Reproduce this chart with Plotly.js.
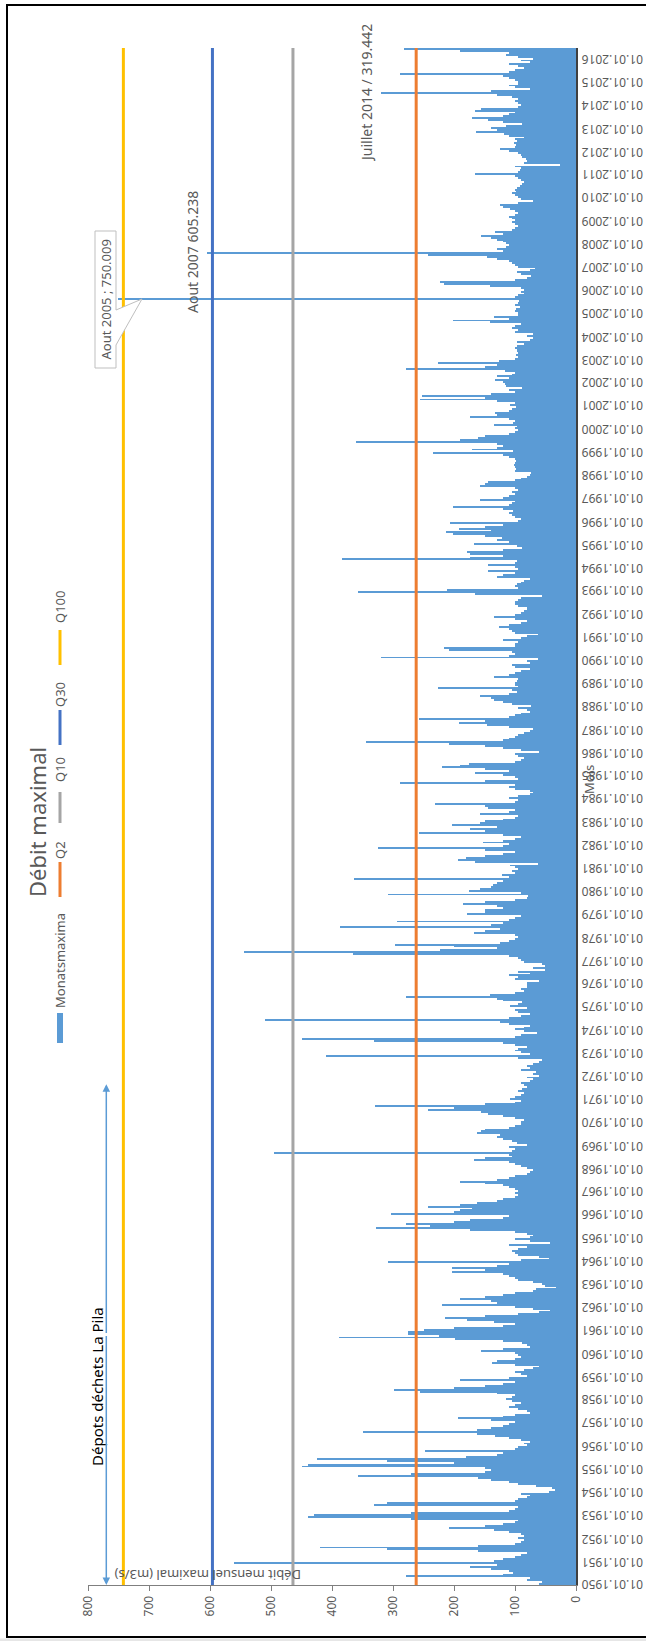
<!DOCTYPE html>
<html>
<head>
<meta charset="utf-8">
<script src="https://cdn.plot.ly/plotly-3.0.1.min.js"></script>
<style>
  html, body { margin: 0; padding: 0; background: #ffffff; }
  #chart { width: 646px; height: 1641px; }
</style>
</head>
<body>
<div id="chart"></div>
<script>
// ---------------- DATA ----------------
const startYear = 1950;
const seriesName = "Monatsmaxima";
// Monthly maxima (m3/s), Jan..Dec for each year
const flow1950s = [
  60, 56, 81, 75, 279, 120, 103, 110, 140, 174, 130, 561,
  134, 120, 100, 90, 80, 161, 310, 419, 160, 100, 90, 85,
  95, 85, 90, 110, 134, 209, 150, 120, 100, 95, 270, 439,
  429, 270, 110, 100, 95, 331, 310, 100, 95, 80, 75, 90,
  45, 35, 40, 66, 95, 110, 140, 160, 358, 270, 150, 140,
  150, 449, 439, 200, 310, 425, 180, 130, 120, 248, 100, 95,
  80, 86, 75, 90, 110, 133, 163, 349, 163, 140, 120, 110,
  100, 140, 193, 120, 100, 75, 80, 95, 110, 100, 90, 105,
  115, 105, 100, 130, 256, 298, 200, 150, 120, 100, 190, 110,
  80, 90, 100, 85, 70, 60, 100, 138, 130, 100, 90, 95
];
const flow1960s = [
  100, 155, 120, 75, 80, 89, 120, 198, 388, 225, 275, 275,
  250, 200, 120, 100, 135, 179, 214, 150, 95, 60, 43, 70,
  100, 219, 130, 140, 190, 150, 120, 100, 70, 65, 32, 51,
  55, 70, 95, 100, 110, 120, 204, 150, 204, 130, 110, 309,
  90, 45, 60, 95, 100, 105, 95, 80, 110, 43, 75, 100,
  75, 70, 80, 100, 174, 328, 240, 278, 200, 174, 120, 110,
  303, 200, 190, 170, 242, 190, 163, 130, 120, 100, 95, 100,
  95, 100, 110, 120, 150, 190, 130, 110, 100, 80, 75, 70,
  80, 90, 100, 110, 168, 150, 105, 110, 495, 105, 100, 110,
  80, 97, 105, 119, 130, 125, 163, 155, 150, 110, 100, 90
];
const flow1970s = [
  90, 85, 100, 120, 144, 155, 242, 200, 330, 150, 100, 90,
  108, 100, 90, 85, 95, 88, 80, 85, 90, 75, 70, 80,
  60, 70, 65, 90, 75, 80, 70, 60, 55, 95, 410, 75,
  90, 100, 95, 80, 100, 120, 331, 449, 100, 90, 64, 85,
  100, 85, 75, 110, 125, 510, 110, 90, 75, 95, 100, 80,
  108, 95, 89, 120, 130, 278, 141, 100, 85, 90, 80, 81,
  80, 60, 100, 95, 110, 75, 95, 51, 70, 51, 55, 85,
  90, 95, 110, 366, 545, 223, 130, 200, 297, 125, 110, 100,
  95, 100, 168, 150, 125, 387, 140, 120, 294, 110, 100, 90,
  179, 150, 149, 120, 130, 185, 150, 100, 80, 78, 308, 90
];
const flow1980s = [
  176, 158, 140, 136, 130, 120, 364, 110, 122, 100, 105, 95,
  100, 108, 62, 166, 193, 180, 150, 120, 100, 150, 325, 120,
  110, 152, 120, 100, 90, 120, 258, 150, 174, 130, 204, 157,
  150, 120, 100, 95, 157, 110, 100, 144, 150, 231, 100, 95,
  110, 95, 75, 70, 75, 100, 110, 100, 288, 150, 95, 100,
  120, 165, 110, 150, 220, 190, 176, 100, 90, 86, 95, 100,
  60, 90, 119, 150, 209, 344, 120, 110, 100, 95, 85, 75,
  70, 110, 146, 191, 150, 258, 110, 100, 90, 75, 80, 95,
  73, 105, 120, 135, 140, 157, 110, 97, 105, 226, 95, 100,
  100, 97, 95, 135, 110, 100, 90, 75, 100, 105, 75, 80
];
const flow1990s = [
  62, 320, 110, 100, 105, 209, 217, 100, 100, 95, 119, 90,
  81, 62, 100, 105, 110, 127, 110, 90, 81, 100, 135, 100,
  90, 85, 81, 80, 95, 100, 100, 95, 90, 56, 166, 358,
  212, 95, 100, 97, 90, 85, 75, 130, 119, 100, 144, 95,
  100, 144, 100, 97, 383, 174, 120, 174, 179, 120, 89, 97,
  168, 110, 130, 122, 150, 201, 213, 140, 191, 150, 120, 206,
  95, 90, 100, 105, 110, 103, 120, 202, 110, 105, 100, 157,
  120, 110, 100, 105, 95, 100, 157, 150, 144, 100, 90, 80,
  75, 73, 100, 98, 100, 102, 100, 98, 100, 110, 119, 234,
  103, 171, 130, 120, 130, 361, 190, 160, 149, 110, 100, 95
];
const flow2000s = [
  100, 97, 135, 103, 100, 110, 174, 130, 133, 110, 105, 98,
  108, 100, 130, 256, 150, 253, 140, 100, 110, 89, 115, 116,
  120, 133, 110, 130, 105, 100, 116, 279, 150, 130, 226, 127,
  100, 95, 98, 95, 97, 96, 100, 97, 85, 97, 75, 70,
  80, 70, 100, 95, 105, 100, 90, 141, 202, 110, 135, 95,
  95, 100, 98, 92, 100, 95, 94, 750.009, 100, 95, 85, 90,
  85, 90, 141, 217, 223, 100, 80, 73, 90, 97, 75, 67,
  95, 100, 105, 110, 130, 146, 242, 605.238, 120, 130, 115, 110,
  115, 120, 130, 140, 155, 120, 133, 105, 100, 95, 100, 105,
  100, 105, 110, 100, 95, 100, 108, 120, 125, 95, 70, 90
];
const flow2010s = [
  95, 100, 105, 98, 100, 96, 92, 88, 85, 90, 95, 100,
  165, 95, 92, 90, 100, 27, 85, 80, 82, 88, 90, 95,
  110, 125, 100, 98, 102, 96, 100, 86, 110, 118, 164, 130,
  140, 115, 88, 120, 145, 170, 120, 110, 100, 165, 155, 95,
  90, 95, 100, 95, 105, 130, 319.442, 140, 75, 100, 110, 95,
  95, 100, 110, 120, 288, 110, 100, 85, 95, 110, 75, 90,
  70, 95, 115, 110, 190, 282
];
// Flood reference levels (m3/s)
const qNames  = ["Q2", "Q10", "Q30", "Q100"];
const qValues = [262, 464, 596, 742];
// Value-axis ticks
const valueTicks = [0, 100, 200, 300, 400, 500, 600, 700, 800];
// Texts
const chartTitle = "Débit maximal";
const valueAxisTitle = "Débit mensuel maximal (m3/s)";
const dateAxisTitle = "Mois";
const noteJuly2014 = "Juillet 2014 / 319.442";
const noteAug2007 = "Aout 2007 605.238";
const noteAug2005 = "Aout 2005 ; 750.009";
const notePila = "Dépots déchets La Pila";
const pilaPeriod = ["1950-01-01", "1971-09-01"];
const pilaLevel = 770;

// ---------------- BUILD ----------------
const flows = [].concat(flow1950s, flow1960s, flow1970s, flow1980s, flow1990s, flow2000s, flow2010s);
const centers = [], widths = [];
flows.forEach((v, i) => {
  const y = startYear + Math.floor(i / 12);
  const m = i % 12;
  const s = Date.UTC(y, m, 1), e = Date.UTC(y, m + 1, 1);
  centers.push(new Date((s + e) / 2).toISOString().slice(0, 19).replace("T", " "));
  widths.push(e - s);
});
const nMonths = flows.length;
const endDate = new Date(Date.UTC(startYear, nMonths, 1)).toISOString().slice(0, 10);
const startDate = startYear + "-01-01";
const lastYear = startYear + Math.floor((nMonths - 1) / 12);
const yearTicks = [];
for (let y = startYear; y <= lastYear; y++) yearTicks.push(y);

const qColors = { Q2: "#ED7D31", Q10: "#A5A5A5", Q30: "#4472C4", Q100: "#FFC000" };
const barColor = "#5B9BD5";
const grey = "#595959";
const FONT = "Noto Sans, DejaVu Sans, sans-serif";

const W = 646, H = 1641;
const L = 88, R = 70, T = 48, B = 56;
const PW = W - L - R, PH = H - T - B;
const px = xp => (xp - L) / PW;
const py = yp => (H - B - yp) / PH;

const traces = [];
traces.push({
  type: "bar", orientation: "h", name: seriesName,
  x: flows, y: centers, width: widths,
  marker: { color: barColor, line: { width: 0 } },
  showlegend: false, hoverinfo: "x+y"
});
qNames.forEach((n, k) => {
  traces.push({
    type: "scatter", mode: "lines", name: n,
    x: [qValues[k], qValues[k]], y: [startDate, endDate],
    line: { color: qColors[n], width: 3 },
    showlegend: false, cliponaxis: false
  });
});

const ann = [];
const shapes = [];
function txt(text, xp, yp, size, angle, color, extra) {
  ann.push(Object.assign({
    text: text, xref: "paper", yref: "paper", x: px(xp), y: py(yp),
    xanchor: "center", yanchor: "middle", showarrow: false, textangle: angle,
    font: { family: FONT, size: size, color: color }
  }, extra || {}));
}
// Date tick labels (upside down, right of the axis)
yearTicks.forEach(y => {
  ann.push({
    text: "01.01." + y, xref: "paper", yref: "y", x: px(613), y: y + "-01-01",
    xanchor: "center", yanchor: "middle", showarrow: false, textangle: 180,
    font: { family: FONT, size: 12, color: grey }
  });
});
// Title
txt(chartTitle, 37, 822, 22, -90, grey);
// Legend (rotated)
const legX = 60;
shapes.push({ type: "rect", xref: "paper", yref: "paper", x0: px(legX - 3), x1: px(legX + 3), y0: py(1013), y1: py(1043), fillcolor: barColor, line: { width: 0 } });
txt(seriesName, legX, 961, 13, -90, grey);
const legItems = [
  { n: "Q2", l0: 862, l1: 897, t: 850 },
  { n: "Q10", l0: 792, l1: 823, t: 770 },
  { n: "Q30", l0: 710, l1: 745, t: 695 },
  { n: "Q100", l0: 630, l1: 665, t: 607 }
];
legItems.forEach(it => {
  shapes.push({ type: "line", xref: "paper", yref: "paper", x0: px(legX), x1: px(legX), y0: py(it.l0), y1: py(it.l1), line: { color: qColors[it.n], width: 3 } });
  txt(it.n, legX, it.t, 13, -90, grey);
});
// Notes
txt(noteJuly2014, 367, 93, 14, -90, grey);
txt(noteAug2007, 193, 252, 14, -90, grey);
// callout box for Aug 2005
const cb = [[95, 231], [116, 231], [116, 310], [142, 299], [116, 345], [116, 368], [95, 368]];
shapes.push({
  type: "path", xref: "paper", yref: "paper",
  path: "M " + cb.map(p => px(p[0]) + "," + py(p[1])).join(" L ") + " Z",
  fillcolor: "#ffffff", line: { color: "#BFBFBF", width: 1 }
});
txt(noteAug2005, 105.5, 300, 13, -90, grey);
// La Pila
txt(notePila, 97, 1387, 15, -90, "#000000");
ann.push({ xref: "x", yref: "y", axref: "x", ayref: "y", x: pilaLevel, y: pilaPeriod[0], ax: pilaLevel, ay: "1960-11-01", text: "", showarrow: true, arrowhead: 2, arrowsize: 1, arrowwidth: 1.5, arrowcolor: barColor, standoff: 0, startstandoff: 0 });
ann.push({ xref: "x", yref: "y", axref: "x", ayref: "y", x: pilaLevel, y: pilaPeriod[1], ax: pilaLevel, ay: "1960-11-01", text: "", showarrow: true, arrowhead: 2, arrowsize: 1, arrowwidth: 1.5, arrowcolor: barColor, standoff: 0, startstandoff: 0 });
// Axis titles
txt(valueAxisTitle, 208, 1575, 13, 180, grey);
txt(dateAxisTitle, 589, 780, 13, -90, grey);
// Outer frame and the light strip below it
shapes.push({ type: "rect", xref: "paper", yref: "paper", x0: px(-5), x1: px(660), y0: py(1645), y1: py(1638.5), fillcolor: "#E6E6E6", line: { width: 0 }, layer: "below" });
shapes.push({ type: "rect", xref: "paper", yref: "paper", x0: px(7), x1: px(660), y0: py(1637), y1: py(5), line: { color: "#000000", width: 2 }, fillcolor: "rgba(0,0,0,0)", layer: "below" });

const layout = {
  width: W, height: H,
  margin: { l: L, r: R, t: T, b: B, pad: 0 },
  paper_bgcolor: "#ffffff", plot_bgcolor: "#ffffff",
  showlegend: false, bargap: 0,
  font: { family: FONT, color: grey },
  xaxis: {
    range: [800, 0], tickvals: valueTicks, ticktext: valueTicks.map(String),
    tickangle: -90, ticks: "outside", ticklen: 5, tickcolor: "#7F7F7F",
    showline: true, linecolor: "#7F7F7F", linewidth: 1,
    showgrid: false, zeroline: false,
    tickfont: { family: FONT, size: 12, color: grey }
  },
  yaxis: {
    type: "date", side: "right", range: [startDate, endDate],
    showticklabels: false, ticks: "", showline: true, linecolor: "#404040", linewidth: 1.5,
    showgrid: false, zeroline: false
  },
  annotations: ann,
  shapes: shapes
};

Plotly.newPlot("chart", traces, layout, { staticPlot: true, displayModeBar: false });
</script>
</body>
</html>
